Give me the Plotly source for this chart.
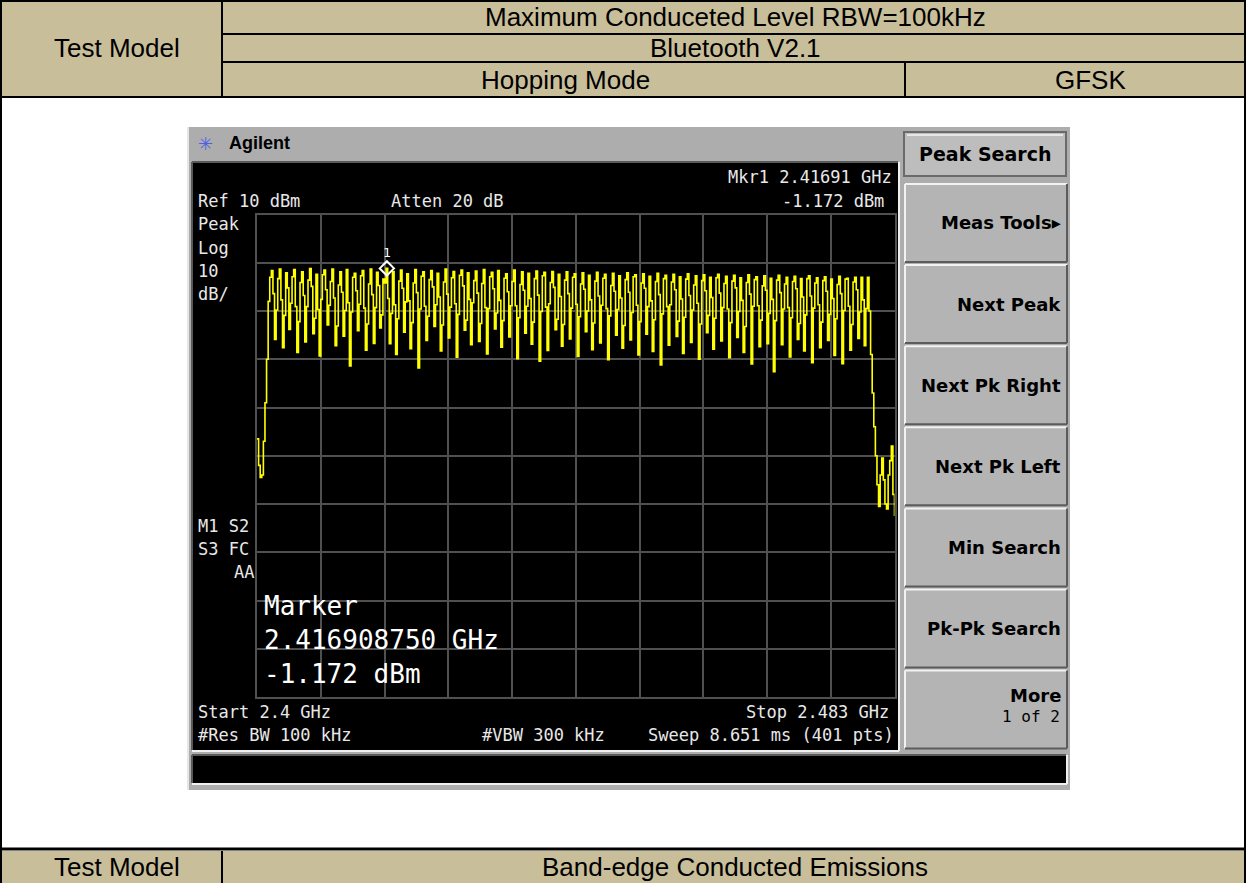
import numpy as np
import plotly.graph_objects as go

W, H = 1246, 883

# ---------------- data ----------------
start_ghz = 2.4
stop_ghz = 2.483
ref_level_dbm = 10
db_per_div = 10
n_div = 10
marker_freq_ghz = 2.41691
marker_level_dbm = -1.172

# rising band edge (first sweep points)
edge_low_dbm = [-36.5, -42.0, -44.5, -44.0, -37.0, -29.0, -20.0, -8.0, -3.0]

# 79 hopping channels (dBm)
hop_channels_dbm = [
    [-1.6, -6.4, -15.9, -9.8, -3.3], [-1.3, -7.7, -17.6, -10.9], [-2.1, -5.2, -13.8, -8.4, -2.9],
    [-1.4, -9.1, -18.6, -12.2, -4.1], [-1.9, -6.8, -16.4, -9.1, -3.6], [-1.2, -4.9, -14.7, -11.5],
    [-2.4, -9.7, -19.3, -7.6, -2.5], [-1.5, -5.6, -12.9, -8.8, -3.9], [-1.3, -7.3, -17.2, -13.1, -4.6],
    [-1.9, -6.1, -15.2, -9.9], [-1.4, -8.3, -21.4, -10.2, -3.0], [-2.2, -5.8, -14.1, -8.6, -2.7],
    [-1.6, -9.4, -18.1, -12.7, -4.4], [-1.3, -6.6, -16.7, -9.3], [-2.0, -4.7, -13.5, -10.8, -3.4],
    [-4.2, -1.172, -7.4, -16.8, -10.5], [-1.8, -8.7, -19.0, -11.6, -3.8], [-1.5, -5.3, -14.4, -8.1],
    [-2.3, -7.9, -17.8, -12.4, -4.2], [-1.4, -6.2, -21.8, -9.6, -2.8], [-1.9, -9.0, -16.1, -11.1, -3.5],
    [-1.6, -5.0, -13.2, -8.7], [-2.2, -7.1, -18.3, -12.9, -4.0], [-1.3, -6.5, -15.6, -9.2, -3.1],
    [-1.8, -8.5, -19.6, -10.7, -2.6], [-1.5, -4.8, -14.0, -11.9], [-2.1, -7.6, -17.0, -8.3, -3.7],
    [-1.7, -6.3, -16.3, -12.6, -4.3], [-1.4, -9.3, -18.9, -9.5, -2.9], [-2.0, -5.4, -13.7, -10.4],
    [-1.6, -7.8, -17.5, -12.0, -3.2], [-2.3, -6.0, -15.4, -8.9, -3.9], [-1.5, -8.9, -19.9, -11.4, -4.5],
    [-1.9, -5.7, -14.6, -9.0], [-2.2, -7.4, -16.9, -12.3, -3.3], [-1.7, -6.7, -20.4, -10.1, -2.7],
    [-2.0, -9.2, -18.2, -8.5, -4.1], [-1.8, -5.1, -13.9, -11.7], [-2.4, -7.0, -17.3, -12.8, -3.6],
    [-1.9, -6.4, -15.8, -9.4, -3.0], [-2.3, -8.6, -19.4, -11.2, -4.4], [-2.1, -5.5, -14.3, -10.0],
    [-2.6, -7.7, -18.0, -12.5, -3.8], [-2.0, -6.9, -16.6, -8.8, -3.2], [-2.4, -9.5, -20.1, -11.0, -4.7],
    [-2.2, -5.9, -15.0, -9.7], [-2.7, -7.3, -17.7, -13.0, -3.5], [-2.1, -6.1, -16.0, -10.3, -2.9],
    [-2.5, -8.8, -19.1, -12.2, -4.2], [-2.3, -5.3, -14.8, -9.1], [-2.8, -7.9, -18.4, -11.8, -3.9],
    [-2.2, -6.6, -21.2, -10.6, -3.3], [-2.6, -9.1, -17.1, -8.7, -4.0], [-2.4, -5.6, -15.3, -12.1],
    [-2.9, -7.5, -18.8, -11.3, -3.4], [-2.3, -6.8, -16.5, -9.8, -4.6], [-2.7, -8.4, -20.0, -12.7, -3.7],
    [-2.5, -5.8, -14.5, -10.9], [-3.0, -7.2, -17.9, -11.5, -3.1], [-2.4, -6.3, -16.2, -9.3, -4.3],
    [-2.8, -9.6, -19.7, -12.4, -3.8], [-2.6, -5.2, -15.5, -10.1], [-3.1, -7.8, -18.6, -13.2, -4.1],
    [-2.5, -6.5, -21.0, -9.0, -3.5], [-2.9, -8.9, -17.4, -11.9, -4.8], [-2.7, -5.7, -16.8, -10.5],
    [-3.2, -7.6, -22.6, -12.0, -3.6], [-2.6, -6.2, -17.0, -9.6, -4.4], [-3.0, -9.3, -19.5, -11.4, -3.9],
    [-2.8, -5.4, -15.9, -12.6], [-3.3, -7.1, -18.3, -10.8, -3.3], [-2.7, -6.9, -20.7, -9.4, -4.2],
    [-3.1, -8.7, -17.6, -12.3, -3.7], [-2.9, -5.9, -16.1, -10.7], [-3.4, -7.4, -19.2, -11.6, -4.5],
    [-2.8, -6.4, -20.9, -9.9, -3.4], [-3.2, -9.0, -18.1, -12.8, -4.0], [-3.0, -5.6, -15.7, -10.2],
    [-3.0, -7.7, -17.2, -9.5, -3.0],
]

# falling band edge (last sweep points)
edge_high_dbm = [-10.0, -19.0, -27.0, -34.0, -40.0, -46.0, -50.5, -44.0, -40.5,
                 -45.0, -50.0, -51.0, -44.0, -41.0, -38.0, -48.0, -52.5]

header_title = "Maximum Conduceted Level RBW=100kHz"
header_standard = "Bluetooth V2.1"
header_mode = "Hopping Mode"
header_modulation = "GFSK"
row_label = "Test Model"
next_title = "Band-edge Conducted Emissions"

softkey_title = "Peak Search"
softkey_labels = ["Meas Tools\u25b8", "Next Peak", "Next Pk Right", "Next Pk Left",
                  "Min Search", "Pk-Pk Search", "More"]

# ---------------- build trace ----------------
level_dbm = list(edge_low_dbm)
for ch in hop_channels_dbm:
    level_dbm.extend(ch)
level_dbm.extend(edge_high_dbm)
freq_ghz = np.linspace(start_ghz, stop_ghz, len(level_dbm))

# ---------------- helpers ----------------
def fx(x):
    return x / W

def fy(y):
    return 1 - y / H

shapes = []
annotations = []

def rect(x0, y0, x1, y1, fill, line_color=None, line_width=0, layer="below"):
    shapes.append(dict(type="rect", xref="paper", yref="paper",
                       x0=fx(x0), x1=fx(x1), y0=fy(y1), y1=fy(y0),
                       fillcolor=fill, layer=layer,
                       line=dict(color=line_color or "rgba(0,0,0,0)", width=line_width)))

def hline(x0, x1, y, color, width, layer="above"):
    shapes.append(dict(type="line", xref="paper", yref="paper",
                       x0=fx(x0), x1=fx(x1), y0=fy(y), y1=fy(y), layer=layer,
                       line=dict(color=color, width=width)))

def vline(x, y0, y1, color, width, layer="above"):
    shapes.append(dict(type="line", xref="paper", yref="paper",
                       x0=fx(x), x1=fx(x), y0=fy(y0), y1=fy(y1), layer=layer,
                       line=dict(color=color, width=width)))

def text(x, y, s, size, color="black", family="Liberation Sans", xanchor="center", bold=False):
    if bold:
        s = "<b>" + s + "</b>"
    annotations.append(dict(x=fx(x), y=fy(y), xref="paper", yref="paper", text=s,
                            showarrow=False, xanchor=xanchor, yanchor="middle",
                            font=dict(size=size, color=color, family=family)))

def bevel(x0, y0, x1, y1, fill, light, dark, w=2):
    rect(x0, y0, x1, y1, fill)
    hline(x0, x1, y0, light, w)
    vline(x0, y0, y1, light, w)
    hline(x0, x1, y1, dark, w)
    vline(x1, y0, y1, dark, w)

# ---------------- report table ----------------
TAN = "#C8BE9A"
rect(0, 0, W, 97, TAN)
rect(0, 851, W, H, TAN)
hline(0, W, 1, "black", 2)
vline(1, 0, H, "black", 2)
vline(W - 1, 0, H, "black", 2)
vline(222, 0, 97, "black", 2)
vline(222, 851, H, "black", 2)
hline(222, W, 34, "black", 2)
hline(222, W, 62, "black", 2)
vline(905, 62, 97, "black", 2)
hline(0, W, 97, "black", 2)
hline(0, W, 849, "black", 3)

HF = 26
text(117, 48, row_label, HF)
text(735, 17, header_title, HF)
text(735, 48, header_standard, HF)
text(565, 80, header_mode, HF)
text(1090, 80, header_modulation, HF)
text(117, 867, row_label, HF)
text(735, 867, next_title, HF)

# ---------------- analyzer screen ----------------
GRAY = "#ADADAD"
rect(187, 127, 1070, 790, GRAY)
vline(188, 127, 790, "#E6E6E6", 2)
text(205, 143, "\u2733", 18, color="#4F5FE8", family="DejaVu Sans")
text(227, 143, "Agilent", 18, family="Liberation Sans", xanchor="left", bold=True)

# display
rect(192, 162, 898, 750, "black")
hline(192, 898, 162, "#5A5A5A", 2)
vline(192, 162, 750, "#5A5A5A", 2)
hline(192, 899, 751, "#F0F0F0", 2)
vline(899, 162, 751, "#F0F0F0", 2)

# bottom status bar
rect(192, 755, 1066, 783, "black")
hline(192, 1066, 755, "#5A5A5A", 2)
vline(192, 755, 783, "#5A5A5A", 2)
hline(192, 1067, 784, "#F0F0F0", 2)
vline(1067, 755, 784, "#F0F0F0", 2)

# softkeys
rect(904, 132, 1066, 176, "#BDBDBD", line_color="#6A6A6A", line_width=2)
hline(907, 1063, 135, "#F4F4F4", 1.5)
text(985, 154, softkey_title, 19, family="DejaVu Sans", bold=True)
for i, lab in enumerate(softkey_labels):
    top = 184 + i * 81.1
    bot = top + 78
    bevel(905, top, 1067, bot, "#B4B4B4", "#F2F2F2", "#5C5C5C")
    if lab == "More":
        text(1063, top + 25, lab, 18, family="DejaVu Sans", xanchor="right", bold=True)
        text(1062, top + 46, "1 of 2", 16, family="DejaVu Sans Mono", xanchor="right")
    else:
        text(1063, top + 39, lab, 18, family="DejaVu Sans", xanchor="right", bold=True)

# instrument annotation text
MONO = "DejaVu Sans Mono"
TXT = "#E8E8E8"
text(894, 177, "Mkr1 2.41691 GHz", 17, TXT, MONO, xanchor="right")
text(196, 201, "Ref 10 dBm", 17, TXT, MONO, xanchor="left")
text(389, 201, "Atten 20 dB", 17, TXT, MONO, xanchor="left")
text(886, 201, "-1.172 dBm", 17, TXT, MONO, xanchor="right")
for s, y in [("Peak", 224), ("Log", 248), ("10", 271), ("dB/", 294), ("M1 S2", 526), ("S3 FC", 549)]:
    text(196, y, s, 17, TXT, MONO, xanchor="left")
text(256, 572, "AA", 17, TXT, MONO, xanchor="right")
text(262, 606, "Marker", 26, "white", MONO, xanchor="left")
text(262, 640, "2.416908750 GHz", 26, "white", MONO, xanchor="left")
text(262, 674, "-1.172 dBm", 26, "white", MONO, xanchor="left")
text(196, 712, "Start 2.4 GHz", 17, TXT, MONO, xanchor="left")
text(891, 712, "Stop 2.483 GHz", 17, TXT, MONO, xanchor="right")
text(196, 735, "#Res BW 100 kHz", 17, TXT, MONO, xanchor="left")
text(480, 735, "#VBW 300 kHz", 17, TXT, MONO, xanchor="left")
text(896, 735, "Sweep 8.651 ms (401 pts)", 17, TXT, MONO, xanchor="right")

# ---------------- figure ----------------
fig = go.Figure()
fig.add_trace(go.Scatter(x=freq_ghz, y=level_dbm, mode="lines",
                         line=dict(color="#FFFF00", width=1.6, shape="hv"), hoverinfo="skip"))
fig.add_trace(go.Scatter(x=[marker_freq_ghz], y=[marker_level_dbm], mode="markers+text",
                         marker=dict(symbol="diamond-open", size=11, color="white",
                                     line=dict(width=2, color="white")),
                         text=["1"], textposition="top center",
                         textfont=dict(family=MONO, size=13, color="white"),
                         hoverinfo="skip"))

grid = "#505050"
fig.update_layout(
    width=W, height=H, autosize=False,
    margin=dict(l=0, r=0, t=0, b=0, pad=0),
    paper_bgcolor="white", plot_bgcolor="black",
    showlegend=False,
    shapes=shapes, annotations=annotations,
    xaxis=dict(domain=[fx(257), fx(894.5)], range=[start_ghz, stop_ghz],
               tick0=start_ghz, dtick=(stop_ghz - start_ghz) / n_div,
               showticklabels=False, ticks="", showgrid=True, gridcolor=grid, gridwidth=1.5,
               zeroline=False, showline=True, linecolor=grid, linewidth=1.5, mirror=True),
    yaxis=dict(domain=[fy(697), fy(214.5)],
               range=[ref_level_dbm - n_div * db_per_div, ref_level_dbm],
               tick0=ref_level_dbm, dtick=db_per_div,
               showticklabels=False, ticks="", showgrid=True, gridcolor=grid, gridwidth=1.5,
               zeroline=False, showline=True, linecolor=grid, linewidth=1.5, mirror=True),
)

fig.write_html("out.html", config={"displayModeBar": False},
               post_script="document.body.style.margin='0';document.body.style.overflow='hidden';")
